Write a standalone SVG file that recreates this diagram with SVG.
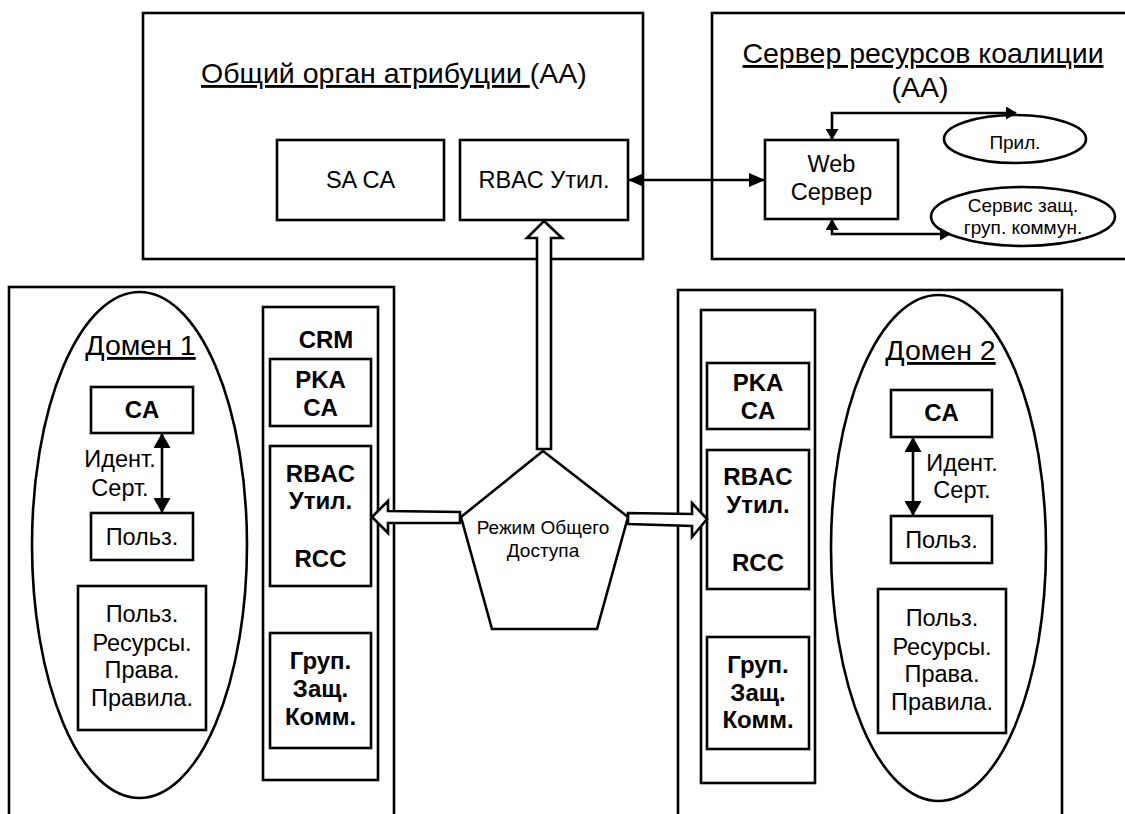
<svg xmlns="http://www.w3.org/2000/svg" width="1125" height="814" viewBox="0 0 1125 814">
<defs>
<style>
.b{fill:#fff;stroke:#000;stroke-width:2.6}
.n{fill:none;stroke:#000;stroke-width:2.6}
.c{fill:none;stroke:#000;stroke-width:2.6}
text{font-family:"Liberation Sans",Arial,sans-serif;fill:#000;text-anchor:middle}
.t{font-size:28.5px}
.m{font-size:23.5px}
.s{font-size:19px}
.bd{font-size:24px;font-weight:bold}
.u{text-decoration:underline}
</style>
<marker id="a1" viewBox="0 0 16 14" refX="15" refY="7" markerWidth="16" markerHeight="14" markerUnits="userSpaceOnUse" orient="auto-start-reverse"><path d="M0,0 L16,7 L0,14 Z" fill="#000"/></marker>
<marker id="a2" viewBox="0 0 11 13" refX="10" refY="6.5" markerWidth="11" markerHeight="13" markerUnits="userSpaceOnUse" orient="auto-start-reverse"><path d="M0,0 L11,6.5 L0,13 Z" fill="#000"/></marker>
<marker id="a3" viewBox="0 0 15 17" refX="14" refY="8.5" markerWidth="15" markerHeight="17" markerUnits="userSpaceOnUse" orient="auto-start-reverse"><path d="M0,0 L15,8.5 L0,17 Z" fill="#000"/></marker>
</defs>
<rect width="1125" height="814" fill="#fff"/>

<g id="aa">
<rect class="b" x="143" y="13" width="500" height="246"/>
<text class="t" x="201" y="83" style="text-anchor:start"><tspan class="u">Общий орган атрибуции </tspan>(АА)</text>
</g>
<g id="sa-ca"><rect class="b" x="277" y="140" width="167" height="80"/><text class="m" x="360.5" y="188">SA CA</text></g>
<g id="rbac-aa"><rect class="b" x="460" y="140" width="168" height="80"/><text class="m" x="544" y="188">RBAC Утил.</text></g>

<g id="resource-server">
<rect class="b" x="712" y="13" width="420" height="246"/>
<text class="t" x="923" y="63"><tspan class="u">Сервер ресурсов коалиции</tspan></text>
<text class="t" x="920" y="97">(АА)</text>
</g>
<g id="web"><rect class="b" x="765" y="140" width="133" height="79"/><text class="m" x="831.5" y="172">Web</text><text class="m" x="831.5" y="200">Сервер</text></g>
<g id="app"><ellipse class="b" cx="1015" cy="139" rx="71" ry="24"/><text class="s" x="1015" y="149">Прил.</text></g>
<g id="gsc"><ellipse class="b" cx="1023" cy="216.5" rx="92" ry="29.5"/><text class="s" x="1023" y="212">Сервис защ.</text><text class="s" x="1023" y="234">груп. коммун.</text></g>

<g id="left-block"><rect class="b" x="9" y="287" width="385" height="560"/></g>
<g id="domain1">
<ellipse class="n" cx="139.5" cy="545" rx="107.5" ry="253"/>
<text class="t" x="140.5" y="355"><tspan class="u">Домен 1</tspan></text>
</g>
<g id="d1-ca"><rect class="b" x="91" y="387" width="102" height="46"/><text class="bd" x="142" y="418">CA</text></g>
<g id="d1-ident"><text class="m" x="120" y="467">Идент.</text><text class="m" x="120" y="496">Серт.</text></g>
<g id="d1-user"><rect class="b" x="91" y="513" width="102" height="47"/><text class="m" x="142" y="545">Польз.</text></g>
<g id="d1-res"><rect class="b" x="78" y="586" width="128" height="144"/>
<text class="m" x="142" y="622">Польз.</text><text class="m" x="142" y="651">Ресурсы.</text><text class="m" x="142" y="678">Права.</text><text class="m" x="142" y="706">Правила.</text></g>
<g id="crm1"><rect class="b" x="263" y="307" width="115" height="473"/><text class="bd" x="326" y="348">CRM</text></g>
<g id="crm1-pka"><rect class="b" x="270" y="359" width="101" height="67"/><text class="bd" x="320.5" y="388">PKA</text><text class="bd" x="320.5" y="416">CA</text></g>
<g id="crm1-rbac"><rect class="b" x="270" y="446" width="101" height="140"/><text class="bd" x="320.5" y="482">RBAC</text><text class="bd" x="320.5" y="509">Утил.</text><text class="bd" x="320.5" y="567">RCC</text></g>
<g id="crm1-gsc"><rect class="b" x="270" y="633" width="101" height="115"/><text class="bd" x="320.5" y="669">Груп.</text><text class="bd" x="320.5" y="697">Защ.</text><text class="bd" x="320.5" y="725">Комм.</text></g>

<g id="right-block"><rect class="b" x="678" y="290" width="384" height="560"/></g>
<g id="domain2">
<ellipse class="n" cx="938.5" cy="548" rx="107.5" ry="253"/>
<text class="t" x="940.5" y="360"><tspan class="u">Домен 2</tspan></text>
</g>
<g id="d2-ca"><rect class="b" x="891" y="390" width="101" height="47"/><text class="bd" x="941.5" y="421">CA</text></g>
<g id="d2-ident"><text class="m" x="962" y="471">Идент.</text><text class="m" x="962" y="498">Серт.</text></g>
<g id="d2-user"><rect class="b" x="891" y="516" width="101" height="47"/><text class="m" x="941.5" y="548">Польз.</text></g>
<g id="d2-res"><rect class="b" x="878" y="589" width="128" height="144"/>
<text class="m" x="942" y="626">Польз.</text><text class="m" x="942" y="655">Ресурсы.</text><text class="m" x="942" y="682">Права.</text><text class="m" x="942" y="710">Правила.</text></g>
<g id="crm2"><rect class="b" x="701" y="310" width="114" height="473"/></g>
<g id="crm2-pka"><rect class="b" x="707" y="363" width="102" height="66"/><text class="bd" x="758" y="391">PKA</text><text class="bd" x="758" y="419">CA</text></g>
<g id="crm2-rbac"><rect class="b" x="707" y="450" width="102" height="139"/><text class="bd" x="758" y="485">RBAC</text><text class="bd" x="758" y="513">Утил.</text><text class="bd" x="758" y="571">RCC</text></g>
<g id="crm2-gsc"><rect class="b" x="707" y="637" width="102" height="112"/><text class="bd" x="758" y="673">Груп.</text><text class="bd" x="758" y="701">Защ.</text><text class="bd" x="758" y="728">Комм.</text></g>

<g id="connectors">
<path class="c" d="M629,180 L764,180" marker-start="url(#a1)" marker-end="url(#a1)"/>
<path class="c" d="M832,139 L832,113 L1016,113" marker-start="url(#a2)" marker-end="url(#a2)"/>
<path class="c" d="M832,220 L832,234 L950,234" marker-start="url(#a2)" marker-end="url(#a2)"/>
<path class="c" d="M162,434 L162,512" marker-start="url(#a3)" marker-end="url(#a3)"/>
<path class="c" d="M913,438 L913,515" marker-start="url(#a3)" marker-end="url(#a3)"/>
<polygon class="b" points="544,221 562,238 551,238 551,449 537,449 537,238 527,238"/>
<polygon class="b" points="372,517 388,501 388,511 460,512 460,523 388,523 388,533"/>
<polygon class="b" points="707,519 692,503 692,514 628,513 628,524 692,526 692,537"/>
</g>

<g id="shared-mode">
<polygon class="b" points="543,451 628,517 597,629 492,629 461,517"/>
<text class="s" x="543" y="534">Режим Общего</text>
<text class="s" x="543" y="557">Доступа</text>
</g>
</svg>
